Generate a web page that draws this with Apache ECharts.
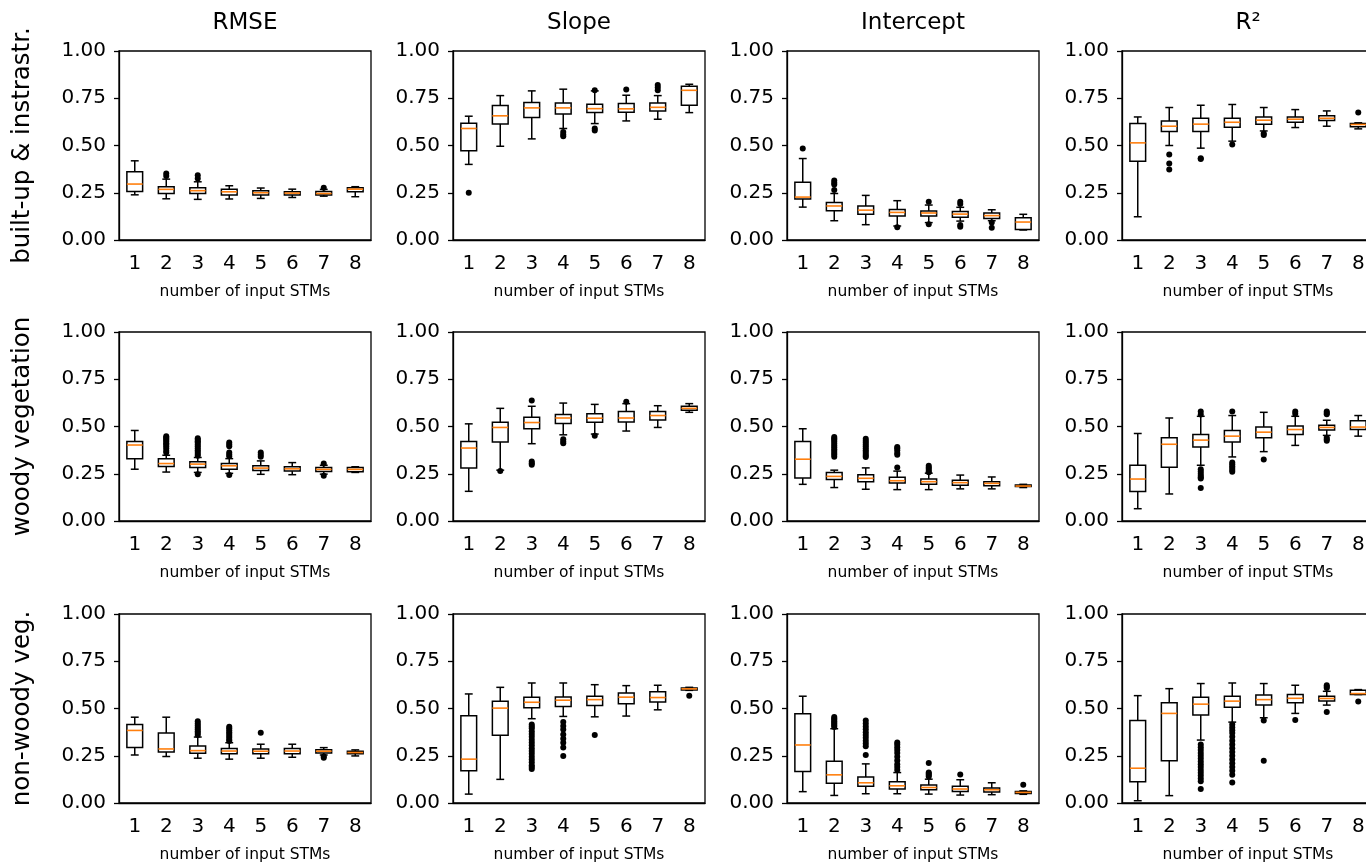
<!DOCTYPE html>
<html>
<head>
<meta charset="utf-8">
<script src="https://cdn.jsdelivr.net/npm/echarts@6/dist/echarts.min.js"></script>
<style>
  html, body { margin: 0; padding: 0; background: #fff; }
  #chart { width: 1366px; height: 865px; }
</style>
</head>
<body>
<div id="chart"></div>
<script>
// column / row headings
var colTitles = ['RMSE', 'Slope', 'Intercept', 'R²']
var rowTitles = ['built-up & instrastr.', 'woody vegetation', 'non-woody veg.']
var categories = ['1', '2', '3', '4', '5', '6', '7', '8']
var yTicks = [0, 0.25, 0.5, 0.75, 1]

// every box: [lower whisker, Q1, median, Q3, upper whisker]; outliers: [category index, value]
// built-up & instrastr.
var builtRmse = [[0.239, 0.257, 0.296, 0.361, 0.419], [0.218, 0.246, 0.268, 0.282, 0.322], [0.215, 0.246, 0.261, 0.276, 0.308], [0.217, 0.238, 0.255, 0.268, 0.287],
  [0.220, 0.238, 0.250, 0.261, 0.275], [0.225, 0.238, 0.248, 0.255, 0.269], [0.232, 0.238, 0.246, 0.257, 0.268], [0.229, 0.255, 0.269, 0.276, 0.282]]
var builtRmseOut = [[1, 0.352], [1, 0.338], [2, 0.343], [2, 0.326], [6, 0.276]]
var builtSlope = [[0.400, 0.472, 0.590, 0.618, 0.655], [0.496, 0.614, 0.657, 0.711, 0.764], [0.535, 0.648, 0.699, 0.727, 0.789], [0.590, 0.667, 0.699, 0.725, 0.798],
  [0.616, 0.674, 0.695, 0.718, 0.789], [0.630, 0.676, 0.694, 0.722, 0.766], [0.639, 0.683, 0.702, 0.725, 0.764], [0.674, 0.713, 0.792, 0.813, 0.824]]
var builtSlopeOut = [[0, 0.250], [3, 0.572], [3, 0.558], [3, 0.549], [4, 0.792], [4, 0.590], [4, 0.580], [5, 0.796], [6, 0.820], [6, 0.807], [6, 0.792]]
var builtInt = [[0.174, 0.217, 0.227, 0.306, 0.431], [0.102, 0.155, 0.180, 0.199, 0.246], [0.081, 0.136, 0.158, 0.180, 0.236], [0.074, 0.127, 0.146, 0.162, 0.208],
  [0.092, 0.127, 0.143, 0.153, 0.185], [0.100, 0.120, 0.137, 0.151, 0.173], [0.102, 0.114, 0.129, 0.143, 0.160], [0.053, 0.055, 0.095, 0.118, 0.136]]
var builtIntOut = [[0, 0.484], [1, 0.315], [1, 0.303], [1, 0.294], [1, 0.264], [3, 0.067], [4, 0.202], [4, 0.083], [5, 0.202], [5, 0.190], [5, 0.079], [5, 0.070], [6, 0.092], [6, 0.065]]
var builtR2 = [[0.123, 0.417, 0.514, 0.616, 0.651], [0.500, 0.574, 0.602, 0.629, 0.701], [0.486, 0.574, 0.613, 0.644, 0.713], [0.523, 0.597, 0.623, 0.644, 0.717],
  [0.577, 0.613, 0.634, 0.651, 0.701], [0.595, 0.623, 0.639, 0.651, 0.690], [0.602, 0.632, 0.644, 0.658, 0.683], [0.588, 0.599, 0.611, 0.616, 0.620]]
var builtR2Out = [[1, 0.452], [1, 0.405], [1, 0.373], [2, 0.433], [2, 0.428], [3, 0.505], [4, 0.563], [4, 0.555], [7, 0.674]]

// woody vegetation
var woodyRmse = [[0.274, 0.330, 0.402, 0.421, 0.479], [0.259, 0.288, 0.304, 0.329, 0.348], [0.257, 0.283, 0.301, 0.313, 0.336], [0.252, 0.274, 0.292, 0.304, 0.330],
  [0.247, 0.267, 0.280, 0.292, 0.318], [0.245, 0.264, 0.276, 0.287, 0.309], [0.248, 0.262, 0.273, 0.283, 0.295], [0.257, 0.260, 0.273, 0.283, 0.287]]
var woodyRmseOut = [[1, 0.449], [1, 0.442], [1, 0.435], [1, 0.428], [1, 0.420], [1, 0.412], [1, 0.405], [1, 0.395], [1, 0.385], [1, 0.372], [1, 0.362],
  [2, 0.438], [2, 0.430], [2, 0.422], [2, 0.415], [2, 0.405], [2, 0.395], [2, 0.385], [2, 0.375], [2, 0.365], [2, 0.355], [2, 0.345], [2, 0.248],
  [3, 0.415], [3, 0.405], [3, 0.395], [3, 0.362], [3, 0.352], [3, 0.342], [3, 0.243], [4, 0.362], [4, 0.350], [4, 0.340], [6, 0.304], [6, 0.240]]
var woodySlope = [[0.157, 0.280, 0.386, 0.420, 0.514], [0.269, 0.418, 0.495, 0.523, 0.596], [0.409, 0.488, 0.521, 0.549, 0.607], [0.456, 0.516, 0.545, 0.563, 0.624],
  [0.460, 0.523, 0.544, 0.568, 0.617], [0.476, 0.524, 0.545, 0.579, 0.621], [0.495, 0.535, 0.558, 0.579, 0.610], [0.575, 0.586, 0.596, 0.607, 0.621]]
var woodySlopeOut = [[1, 0.264], [2, 0.638], [2, 0.315], [2, 0.305], [2, 0.297], [3, 0.432], [3, 0.420], [3, 0.412], [4, 0.451], [5, 0.631]]
var woodyInt = [[0.194, 0.227, 0.327, 0.420, 0.488], [0.177, 0.219, 0.236, 0.257, 0.269], [0.168, 0.208, 0.226, 0.245, 0.281], [0.166, 0.201, 0.213, 0.231, 0.264],
  [0.166, 0.194, 0.208, 0.222, 0.253], [0.170, 0.189, 0.203, 0.215, 0.243], [0.170, 0.187, 0.199, 0.208, 0.233], [0.177, 0.182, 0.185, 0.191, 0.194]]
var woodyIntOut = [[1, 0.445], [1, 0.437], [1, 0.430], [1, 0.420], [1, 0.410], [1, 0.400], [1, 0.390], [1, 0.380], [1, 0.370], [1, 0.360], [1, 0.350], [1, 0.340],
  [2, 0.435], [2, 0.425], [2, 0.415], [2, 0.405], [2, 0.395], [2, 0.385], [2, 0.375], [2, 0.365], [2, 0.355], [2, 0.345], [2, 0.338],
  [3, 0.392], [3, 0.385], [3, 0.375], [3, 0.360], [3, 0.350], [3, 0.283], [4, 0.292], [4, 0.283], [4, 0.275], [4, 0.265], [4, 0.258]]
var woodyR2 = [[0.065, 0.156, 0.222, 0.295, 0.463], [0.143, 0.285, 0.406, 0.441, 0.545], [0.295, 0.392, 0.428, 0.458, 0.554], [0.339, 0.418, 0.449, 0.479, 0.558],
  [0.367, 0.441, 0.470, 0.498, 0.575], [0.400, 0.458, 0.484, 0.502, 0.554], [0.453, 0.481, 0.495, 0.507, 0.533], [0.449, 0.484, 0.497, 0.530, 0.558]]
var woodyR2Out = [[2, 0.580], [2, 0.563], [2, 0.274], [2, 0.262], [2, 0.250], [2, 0.240], [2, 0.232], [2, 0.225], [2, 0.175],
  [3, 0.580], [3, 0.310], [3, 0.300], [3, 0.290], [3, 0.280], [3, 0.270], [3, 0.260], [4, 0.325], [5, 0.580], [5, 0.568],
  [6, 0.580], [6, 0.572], [6, 0.565], [6, 0.440], [6, 0.432], [6, 0.425]]

// non-woody veg.
var nonRmse = [[0.254, 0.293, 0.384, 0.416, 0.454], [0.246, 0.270, 0.286, 0.370, 0.454], [0.237, 0.263, 0.277, 0.302, 0.349], [0.232, 0.261, 0.275, 0.288, 0.319],
  [0.237, 0.261, 0.274, 0.286, 0.311], [0.242, 0.260, 0.275, 0.288, 0.311], [0.254, 0.265, 0.274, 0.282, 0.293], [0.249, 0.260, 0.267, 0.274, 0.281]]
var nonRmseOut = [[2, 0.433], [2, 0.420], [2, 0.410], [2, 0.400], [2, 0.390], [2, 0.380], [2, 0.370], [2, 0.360],
  [3, 0.404], [3, 0.395], [3, 0.385], [3, 0.375], [3, 0.365], [3, 0.355], [3, 0.345], [3, 0.335], [3, 0.328], [4, 0.372], [6, 0.246], [6, 0.240]]
var nonSlope = [[0.047, 0.170, 0.232, 0.461, 0.577], [0.125, 0.358, 0.502, 0.539, 0.612], [0.446, 0.504, 0.533, 0.560, 0.635], [0.458, 0.511, 0.544, 0.561, 0.635],
  [0.456, 0.516, 0.547, 0.565, 0.626], [0.460, 0.525, 0.560, 0.582, 0.621], [0.493, 0.535, 0.558, 0.588, 0.623], [0.596, 0.598, 0.604, 0.609, 0.612]]
var nonSlopeOut = [[2, 0.416], [2, 0.405], [2, 0.395], [2, 0.380], [2, 0.365], [2, 0.350], [2, 0.335], [2, 0.320], [2, 0.305], [2, 0.290], [2, 0.275],
  [2, 0.260], [2, 0.245], [2, 0.230], [2, 0.215], [2, 0.200], [2, 0.190], [2, 0.180],
  [3, 0.428], [3, 0.407], [3, 0.389], [3, 0.363], [3, 0.340], [3, 0.319], [3, 0.293], [3, 0.249], [4, 0.360], [7, 0.568]]
var nonInt = [[0.060, 0.167, 0.307, 0.472, 0.565], [0.040, 0.104, 0.149, 0.221, 0.393], [0.049, 0.088, 0.107, 0.137, 0.207], [0.049, 0.074, 0.091, 0.112, 0.161],
  [0.047, 0.070, 0.082, 0.095, 0.126], [0.042, 0.061, 0.074, 0.088, 0.123], [0.044, 0.058, 0.070, 0.079, 0.107], [0.046, 0.050, 0.056, 0.061, 0.064]]
var nonIntOut = [[1, 0.455], [1, 0.447], [1, 0.440], [1, 0.432], [1, 0.425], [1, 0.418], [1, 0.410], [1, 0.402],
  [2, 0.437], [2, 0.420], [2, 0.405], [2, 0.390], [2, 0.375], [2, 0.360], [2, 0.345], [2, 0.330], [2, 0.315], [2, 0.300], [2, 0.254],
  [3, 0.320], [3, 0.310], [3, 0.295], [3, 0.280], [3, 0.265], [3, 0.245], [3, 0.225], [3, 0.205], [3, 0.190], [3, 0.175],
  [4, 0.211], [4, 0.162], [4, 0.155], [4, 0.148], [4, 0.140], [5, 0.151], [7, 0.096]]
var nonR2 = [[0.012, 0.112, 0.184, 0.437, 0.568], [0.039, 0.223, 0.474, 0.530, 0.605], [0.333, 0.465, 0.523, 0.560, 0.632], [0.428, 0.507, 0.539, 0.565, 0.635],
  [0.451, 0.518, 0.547, 0.572, 0.632], [0.474, 0.530, 0.554, 0.574, 0.623], [0.518, 0.540, 0.553, 0.565, 0.591], [0.574, 0.574, 0.579, 0.596, 0.600]]
var nonR2Out = [[2, 0.310], [2, 0.295], [2, 0.280], [2, 0.265], [2, 0.250], [2, 0.235], [2, 0.220], [2, 0.205], [2, 0.190], [2, 0.175], [2, 0.160],
  [2, 0.145], [2, 0.130], [2, 0.115], [2, 0.074],
  [3, 0.416], [3, 0.400], [3, 0.385], [3, 0.370], [3, 0.350], [3, 0.330], [3, 0.310], [3, 0.290], [3, 0.270], [3, 0.250], [3, 0.230], [3, 0.210],
  [3, 0.190], [3, 0.170], [3, 0.150], [3, 0.109], [4, 0.437], [4, 0.223], [5, 0.439], [6, 0.623], [6, 0.615], [6, 0.608], [6, 0.481], [7, 0.537]]

var panels = [
  [builtRmse, builtRmseOut], [builtSlope, builtSlopeOut], [builtInt, builtIntOut], [builtR2, builtR2Out],
  [woodyRmse, woodyRmseOut], [woodySlope, woodySlopeOut], [woodyInt, woodyIntOut], [woodyR2, woodyR2Out],
  [nonRmse, nonRmseOut], [nonSlope, nonSlopeOut], [nonInt, nonIntOut], [nonR2, nonR2Out]
]

// layout (pixels)
var colLeft = [119, 453, 787, 1122]
var rowTop = [51, 332, 614]
var gridW = 252
var gridH = 189
var font = 'DejaVu Sans'

// matplotlib style box: caps are half the box width, median in orange
function renderBox (params, api) {
  var x = api.value(0)
  var lo = api.coord([x, api.value(1)])
  var q1 = api.coord([x, api.value(2)])
  var md = api.coord([x, api.value(3)])
  var q3 = api.coord([x, api.value(4)])
  var hi = api.coord([x, api.value(5)])
  var band = api.size([1, 0])[0]
  var hw = band * 0.25
  var cw = band * 0.125
  var cx = lo[0]
  var ln = { stroke: '#000', lineWidth: 1.5 }
  return {
    type: 'group',
    children: [
      { type: 'line', shape: { x1: cx, y1: lo[1], x2: cx, y2: q1[1] }, style: ln },
      { type: 'line', shape: { x1: cx, y1: q3[1], x2: cx, y2: hi[1] }, style: ln },
      { type: 'line', shape: { x1: cx - cw, y1: lo[1], x2: cx + cw, y2: lo[1] }, style: ln },
      { type: 'line', shape: { x1: cx - cw, y1: hi[1], x2: cx + cw, y2: hi[1] }, style: ln },
      { type: 'rect', shape: { x: cx - hw, y: q3[1], width: hw * 2, height: q1[1] - q3[1] }, style: { fill: '#fff', stroke: '#000', lineWidth: 1.5 } },
      { type: 'line', shape: { x1: cx - hw, y1: md[1], x2: cx + hw, y2: md[1] }, style: { stroke: '#ff7f0e', lineWidth: 1.6 } }
    ]
  }
}

var grids = []
var xAxes = []
var yAxes = []
var series = []
var graphics = []

panels.forEach(function (p, k) {
  var r = Math.floor(k / 4)
  var c = k % 4
  grids.push({
    left: colLeft[c],
    top: rowTop[r],
    width: gridW,
    height: gridH,
    containLabel: false,
    outerBoundsMode: 'none',
    show: true,
    borderColor: '#000',
    borderWidth: 1.3,
    backgroundColor: 'transparent'
  })
  xAxes.push({
    type: 'category',
    gridIndex: k,
    data: categories,
    boundaryGap: true,
    name: 'number of input STMs',
    nameLocation: 'middle',
    nameGap: 44,
    nameTextStyle: { color: '#000', fontFamily: font, fontSize: 15.5 },
    axisLine: { lineStyle: { color: '#000', width: 1.3 } },
    axisTick: { alignWithLabel: true, length: 5, lineStyle: { color: '#000', width: 1.3 } },
    axisLabel: { color: '#000', fontFamily: font, fontSize: 20, margin: 14 },
    splitLine: { show: false }
  })
  yAxes.push({
    type: 'value',
    gridIndex: k,
    min: 0,
    max: 1,
    interval: 0.25,
    name: c === 0 ? rowTitles[r] : '',
    nameLocation: 'middle',
    nameRotate: 90,
    nameGap: 84,
    nameTextStyle: { color: '#000', fontFamily: font, fontSize: 24.5 },
    axisLine: { show: true, lineStyle: { color: '#000', width: 1.3 } },
    axisTick: { show: true, length: 5, lineStyle: { color: '#000', width: 1.3 } },
    axisLabel: {
      color: '#000',
      fontFamily: font,
      fontSize: 20,
      margin: 13,
      formatter: function (v) { return v.toFixed(2) }
    },
    splitLine: { show: false }
  })
  series.push({
    type: 'custom',
    xAxisIndex: k,
    yAxisIndex: k,
    renderItem: renderBox,
    encode: { x: 0, y: [1, 2, 3, 4, 5] },
    data: p[0].map(function (b, i) { return [i].concat(b) }),
    silent: true,
    z: 2
  })
  series.push({
    type: 'scatter',
    xAxisIndex: k,
    yAxisIndex: k,
    data: p[1],
    symbol: 'circle',
    symbolSize: 6,
    itemStyle: { color: '#000', opacity: 1 },
    silent: true,
    z: 3
  })
})

colTitles.forEach(function (t, c) {
  graphics.push({
    type: 'text',
    x: colLeft[c] + gridW / 2,
    y: 23,
    style: { text: t, fill: '#000', font: '23px "DejaVu Sans"', textAlign: 'center', textVerticalAlign: 'middle' }
  })
})

var chart = echarts.init(document.getElementById('chart'), null, { renderer: 'canvas' })
chart.setOption({
  backgroundColor: '#fff',
  animation: false,
  grid: grids,
  xAxis: xAxes,
  yAxis: yAxes,
  series: series,
  graphic: graphics
})
</script>
</body>
</html>
